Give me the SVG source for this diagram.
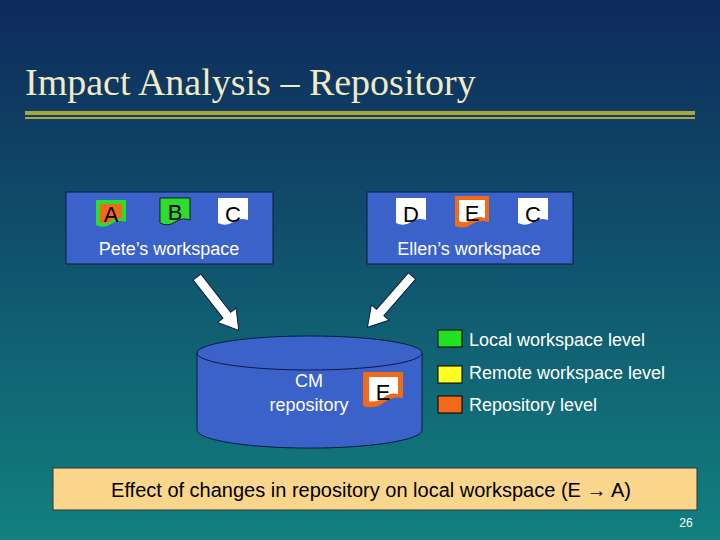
<svg xmlns="http://www.w3.org/2000/svg" width="720" height="540" viewBox="0 0 720 540">
<defs>
<linearGradient id="bg" x1="0" y1="0" x2="0" y2="1"><stop offset="0" stop-color="#0e2a5c"/><stop offset="1" stop-color="#12807f"/></linearGradient>
<path id="doc" d="M0,0 H30 V22 Q22,19 15,24 Q8,29 0,25 Z"/>
<path id="arr" d="M0,-5 H50 V-12 L70,0 L50,12 V5 H0 Z"/>
<style>
.t{font-family:"Liberation Sans",Arial,sans-serif;fill:#fff;font-size:18px}
.d{font-family:"Liberation Sans",Arial,sans-serif;fill:#000;font-size:22px;text-anchor:middle}
.box{fill:#3a62c9;stroke:#0a1a40;stroke-width:1}
.lg{stroke:#000;stroke-width:1}
</style>
</defs>
<rect width="720" height="540" fill="url(#bg)"/>
<text x="25" y="95" font-family="Liberation Serif,serif" font-size="38" fill="#f0ebc3">Impact Analysis – Repository</text>
<rect x="25" y="111" width="670" height="4" fill="#a8a83a"/>
<rect x="25" y="117" width="670" height="2" fill="#a8a83a"/>
<g id="pete">
<rect class="box" x="66" y="192" width="207" height="72"/>
<g transform="translate(96,200)"><use href="#doc" fill="#2edc2e"/><path d="M4,4 H26 V19 Q20,17 15,21 Q9,25 4,22 Z" fill="#f06a1a"/><text class="d" x="15" y="22">A</text></g>
<g transform="translate(160,198)"><use href="#doc" fill="#2edc2e" stroke="#000" stroke-width="0.8"/><text class="d" x="15" y="22">B</text></g>
<g transform="translate(218,198)"><use href="#doc" fill="#fff"/><text class="d" x="15" y="24">C</text></g>
<text class="t" x="169" y="255" text-anchor="middle">Pete’s workspace</text>
</g>
<g id="ellen">
<rect class="box" x="367" y="192" width="206" height="72"/>
<g transform="translate(396,198)"><use href="#doc" fill="#fff"/><text class="d" x="15" y="24">D</text></g>
<g transform="translate(455,196)"><path d="M0,0 H34 V26 Q25,23 17,28 Q9,34 0,30 Z" fill="#f06a1a"/><path d="M4,4 H30 V22 Q22,19 16,24 Q9,28 4,25 Z" fill="#fff"/><text class="d" x="17" y="25">E</text></g>
<g transform="translate(518,198)"><use href="#doc" fill="#fff"/><text class="d" x="15" y="24">C</text></g>
<text class="t" x="469" y="255" text-anchor="middle">Ellen’s workspace</text>
</g>
<g id="repo">
<path d="M197,353 V430 A112,18 0 0 0 422,430 V353" fill="#3a62c9" stroke="#0a1a40"/>
<ellipse cx="309.5" cy="353" rx="112.5" ry="17" fill="#3a62c9" stroke="#0a1a40"/>
<text class="t" x="309" y="387" text-anchor="middle">CM</text>
<text class="t" x="309" y="411" text-anchor="middle">repository</text>
<g transform="translate(363,372)"><path d="M0,0 H40 V26 Q30,24 22,30 Q12,38 0,34 Z" fill="#f06a1a"/><path d="M6,5 H35 V22 Q27,20 20,26 Q12,31 6,29 Z" fill="#fff"/><text class="d" x="20" y="28">E</text></g>
</g>
<g id="connectors" fill="#fff" stroke="#0a1a40" stroke-width="1">
<use href="#arr" transform="translate(197,277) rotate(52) scale(0.97)"/>
<use href="#arr" transform="translate(412,276) rotate(131) scale(0.97)"/>
</g>
<g id="legend">
<rect class="lg" x="438" y="330" width="24" height="17" fill="#22e022"/>
<text class="t" x="469" y="346" font-size="17">Local workspace level</text>
<rect class="lg" x="438" y="366" width="24" height="17" fill="#ffff22"/>
<text class="t" x="469" y="379" font-size="17">Remote workspace level</text>
<rect class="lg" x="438" y="396" width="24" height="17" fill="#f06a1a"/>
<text class="t" x="469" y="411" font-size="17">Repository level</text>
</g>
<g id="note">
<rect x="53" y="468" width="644" height="42" fill="#fad68c" stroke="#333"/>
<text x="371" y="497" text-anchor="middle" font-family="Liberation Sans,Arial,sans-serif" font-size="20" fill="#000">Effect of changes in repository on local workspace (E → A)</text>
</g>
<text x="686" y="527" text-anchor="middle" font-family="Liberation Sans,Arial,sans-serif" font-size="12" fill="#fff">26</text>
</svg>
